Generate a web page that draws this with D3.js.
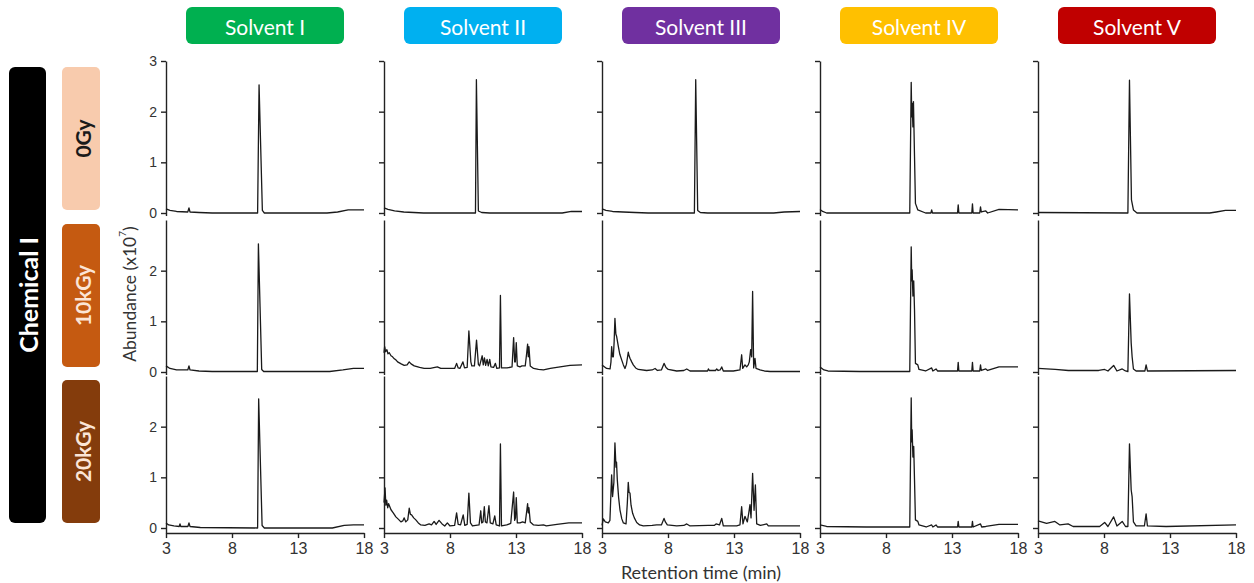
<!DOCTYPE html>
<html lang="en">
<head>
<meta charset="UTF-8">
<title>GC chromatograms</title>
<style>
  body { margin: 0; background: #fff; }
  svg { display: block; font-family: Lato, "Open Sans", sans-serif; }
</style>
</head>
<body>
<svg width="1254" height="583"></svg>
<script src="https://d3js.org/d3.v7.min.js"></script>
<script>
// ---- data ----
const solvents = ["Solvent I", "Solvent II", "Solvent III", "Solvent IV", "Solvent V"]
const doses = ["0Gy", "10kGy", "20kGy"]
const chemical = "Chemical I"
const xTicks = [3, 8, 13, 18]
const yTicksTop = [0, 1, 2, 3]
const yTicks = [0, 1, 2]

// [retention time (min), abundance (x10^7)]
const s1_0 = [[3,0.08],[3.3,0.05],[3.8,0.03],[4.65,0.02],[4.74,0.1],[4.82,0.02],[5.5,0.01],[6.5,0],[9.94,0],[10.05,2.53],[10.3,0.05],[10.45,0],[15.2,0],[16,0.02],[16.8,0.06],[18,0.06]]
const s1_10 = [[3,0.12],[3.3,0.07],[3.8,0.04],[4.65,0.04],[4.74,0.12],[4.82,0.04],[5.5,0.02],[6.5,0.01],[9.92,0.01],[10,2.53],[10.25,0.05],[10.4,0.01],[15.4,0.01],[16.4,0.04],[17.2,0.07],[18,0.07]]
const s1_20 = [[3,0.1],[3.2,0.06],[3.6,0.04],[4,0.03],[4.06,0.08],[4.12,0.03],[4.66,0.03],[4.74,0.1],[4.82,0.03],[5.6,0.01],[9.94,0],[10.02,2.55],[10.28,0.05],[10.45,0],[15.6,0],[16.5,0.05],[17.2,0.06],[18,0.06]]

const s2_0 = [[3,0.1],[3.3,0.07],[3.8,0.04],[4.5,0.02],[6,0],[9.93,0],[10,2.63],[10.15,0.04],[10.4,0.01],[11,0],[16.5,0],[17.2,0.03],[18,0.03]]
const s2_10 = [[3,0.38],[3.05,0.5],[3.12,0.4],[3.22,0.44],[3.3,0.36],[3.4,0.38],[3.53,0.32],[3.65,0.3],[3.78,0.26],[3.9,0.24],[4.03,0.2],[4.3,0.16],[4.53,0.13],[4.75,0.14],[4.91,0.2],[5.05,0.16],[5.29,0.12],[5.7,0.09],[6.04,0.07],[6.5,0.07],[7.04,0.1],[7.3,0.07],[7.8,0.07],[8.35,0.07],[8.5,0.17],[8.62,0.08],[8.75,0.07],[8.98,0.2],[9.1,0.08],[9.3,0.09],[9.43,0.81],[9.58,0.2],[9.65,0.12],[9.85,0.12],[10.01,0.63],[10.15,0.15],[10.24,0.12],[10.44,0.32],[10.52,0.14],[10.61,0.28],[10.7,0.13],[10.81,0.25],[10.9,0.12],[11.01,0.25],[11.1,0.1],[11.3,0.09],[11.44,0.17],[11.55,0.07],[11.75,0.08],[11.82,1.51],[11.9,0.08],[12.32,0.08],[12.7,0.1],[12.82,0.68],[12.9,0.2],[12.95,0.2],[13.02,0.58],[13.1,0.12],[13.3,0.1],[13.45,0.12],[13.7,0.12],[13.8,0.35],[13.88,0.55],[13.93,0.3],[13.98,0.5],[14.08,0.12],[14.33,0.07],[14.7,0.05],[15.08,0.04],[15.6,0.07],[16.09,0.09],[17.09,0.13],[18,0.14]]
const s2_20 = [[3,0.5],[3.08,0.79],[3.14,0.45],[3.2,0.55],[3.28,0.4],[3.35,0.48],[3.53,0.36],[3.7,0.3],[3.9,0.22],[4.1,0.17],[4.28,0.12],[4.42,0.14],[4.53,0.2],[4.65,0.12],[4.8,0.16],[4.91,0.39],[5,0.27],[5.09,0.26],[5.25,0.2],[5.41,0.16],[5.6,0.1],[5.79,0.06],[6.1,0.05],[6.42,0.08],[6.6,0.06],[6.8,0.13],[6.95,0.07],[7.17,0.15],[7.4,0.08],[7.6,0.04],[7.8,0.1],[8,0.04],[8.35,0.05],[8.5,0.3],[8.62,0.07],[8.8,0.06],[9,0.26],[9.12,0.05],[9.3,0.07],[9.43,0.69],[9.55,0.1],[9.7,0.04],[10.2,0.06],[10.33,0.34],[10.4,0.1],[10.5,0.12],[10.6,0.42],[10.68,0.12],[10.8,0.1],[10.95,0.44],[11.05,0.1],[11.25,0.08],[11.39,0.24],[11.5,0.06],[11.75,0.04],[11.82,1.66],[11.9,0.04],[12.3,0.06],[12.6,0.09],[12.82,0.71],[12.9,0.15],[12.96,0.2],[13.02,0.6],[13.1,0.1],[13.3,0.1],[13.5,0.12],[13.7,0.1],[13.82,0.35],[13.88,0.48],[13.93,0.3],[13.98,0.4],[14.08,0.12],[14.33,0.06],[14.7,0.05],[15.08,0.06],[15.3,0.04],[16.1,0.07],[17,0.1],[18,0.1]]

const s3_0 = [[3,0.08],[3.3,0.05],[3.8,0.03],[4.6,0.02],[5.5,0.01],[6.5,0],[10,0],[10.1,2.63],[10.25,0.05],[10.45,0.01],[11,0],[16,0],[16.8,0.02],[18,0.03]]
const s3_10 = [[3,0.14],[3.2,0.1],[3.35,0.07],[3.61,0.06],[3.68,0.2],[3.73,0.5],[3.8,0.3],[3.86,0.3],[3.92,0.6],[3.98,1.06],[4.05,0.75],[4.11,0.7],[4.24,0.5],[4.35,0.35],[4.49,0.24],[4.62,0.14],[4.74,0.07],[4.85,0.15],[4.99,0.39],[5.05,0.32],[5.12,0.27],[5.25,0.2],[5.37,0.14],[5.55,0.08],[5.75,0.05],[6.38,0.03],[6.8,0.04],[7.02,0.07],[7.2,0.03],[7.5,0.04],[7.7,0.17],[7.85,0.09],[8.02,0.05],[8.66,0.02],[9.2,0.03],[9.42,0.06],[9.67,0.02],[11,0.02],[11.06,0.06],[11.13,0.03],[11.6,0.03],[11.69,0.06],[11.8,0.03],[11.95,0.04],[12.07,0.1],[12.19,0.02],[12.95,0.02],[13.45,0.04],[13.58,0.34],[13.66,0.07],[13.83,0.14],[13.96,0.1],[14.08,0.14],[14.16,0.2],[14.26,0.44],[14.34,0.3],[14.41,1.59],[14.49,0.08],[14.59,0.27],[14.67,0.07],[14.97,0.04],[15.3,0.02],[15.73,0.01],[18,0.01]]
const s3_20 = [[3,0.05],[3.1,0.18],[3.25,0.12],[3.48,0.1],[3.6,0.15],[3.68,0.7],[3.73,1.05],[3.8,0.62],[3.9,0.9],[3.98,1.68],[4.06,1.2],[4.1,1.3],[4.16,0.95],[4.26,0.6],[4.36,0.36],[4.5,0.18],[4.62,0.1],[4.82,0.08],[4.92,0.5],[4.99,0.9],[5.05,0.7],[5.12,0.69],[5.2,0.45],[5.32,0.29],[5.45,0.2],[5.63,0.11],[5.85,0.06],[6.13,0.04],[6.8,0.05],[7.14,0.06],[7.5,0.06],[7.7,0.19],[7.8,0.12],[7.95,0.06],[8.66,0.04],[9.2,0.05],[9.42,0.08],[9.67,0.04],[11.06,0.05],[11.5,0.05],[11.64,0.08],[11.9,0.06],[12.07,0.19],[12.19,0.04],[13.2,0.04],[13.45,0.06],[13.58,0.42],[13.68,0.08],[13.83,0.23],[14.01,0.12],[14.12,0.3],[14.21,0.46],[14.29,0.2],[14.41,1.08],[14.52,0.35],[14.62,0.85],[14.72,0.08],[15,0.05],[15.48,0.08],[15.6,0.04],[18,0.04]]

const s4_0 = [[3,0.07],[3.2,0.03],[3.5,0],[5.3,0],[6.5,0],[9.8,0],[9.91,2.58],[9.95,1.9],[9.98,2.17],[10.04,1.7],[10.08,2.2],[10.16,1.12],[10.23,0.19],[10.41,0.06],[11,0],[11.4,0],[11.46,0.06],[11.52,0],[13.42,0],[13.47,0.16],[13.52,0],[14.5,0],[14.55,0.18],[14.6,0],[15.1,0],[15.16,0.12],[15.22,0.02],[15.56,0.04],[15.7,0],[16.56,0.07],[18,0.06]]
const s4_10 = [[3,0.1],[3.3,0.04],[3.6,0.02],[6,0.01],[9.8,0.01],[9.91,2.47],[9.95,1.8],[9.98,2.02],[10.04,1.5],[10.1,1.8],[10.16,1.23],[10.23,0.17],[10.41,0.14],[10.5,0.05],[11,0.02],[11.46,0.08],[11.55,0.02],[11.79,0.06],[11.9,0.02],[13.42,0.02],[13.47,0.19],[13.52,0.02],[14.5,0.02],[14.55,0.19],[14.6,0.02],[15.1,0.02],[15.16,0.14],[15.22,0.03],[15.56,0.06],[15.7,0.03],[16.56,0.1],[18,0.1]]
const s4_20 = [[3,0.06],[3.5,0.03],[6.5,0.02],[9.8,0.02],[9.91,2.57],[9.95,1.7],[9.98,1.94],[10.04,1.4],[10.1,1.61],[10.16,0.95],[10.23,0.16],[10.41,0.13],[10.5,0.06],[11.04,0.02],[11.46,0.06],[11.55,0.02],[11.79,0.06],[11.9,0.02],[13.42,0.02],[13.47,0.13],[13.52,0.02],[14.5,0.02],[14.55,0.13],[14.6,0.02],[15.16,0.08],[15.25,0.02],[15.56,0.03],[16.56,0.07],[18,0.07]]

const s5_0 = [[3,0.01],[9.81,0],[9.93,2.62],[10.08,0.26],[10.23,0.06],[10.5,0],[16,0],[16.5,0.02],[17.2,0.05],[18,0.05]]
const s5_10 = [[3,0.07],[3.65,0.06],[4.3,0.05],[5.3,0.03],[7.6,0.03],[8.05,0.05],[8.3,0.02],[8.73,0.13],[8.98,0.02],[9.38,0.06],[9.63,0.02],[9.81,0.01],[9.93,1.54],[10.06,0.57],[10.13,0.3],[10.23,0.06],[10.43,0.02],[11.1,0.02],[11.19,0.14],[11.29,0.02],[18,0.03]]
const s5_20 = [[3,0.14],[3.65,0.09],[4.28,0.13],[4.66,0.06],[5.28,0.08],[5.66,0.03],[7.67,0.03],[8.05,0.11],[8.3,0.03],[8.73,0.22],[8.98,0.04],[9.38,0.13],[9.63,0.03],[9.81,0.03],[9.93,1.66],[10.06,0.75],[10.13,0.62],[10.23,0.12],[10.43,0.04],[11.06,0.04],[11.19,0.28],[11.29,0.04],[12.7,0.03],[18,0.06]]

// traces[solvent][dose]
const traces = [
    [s1_0, s1_10, s1_20],
    [s2_0, s2_10, s2_20],
    [s3_0, s3_10, s3_20],
    [s4_0, s4_10, s4_20],
    [s5_0, s5_10, s5_20],
]

// ---- styling / layout ----
const solventColors = ["#00b050", "#00b0f0", "#7030a0", "#ffc000", "#c00000"]
const doseColors = ["#f8cbad", "#c55a11", "#843c0c"]
const doseText = ["#1a1a1a", "#fbe5d6", "#fbe5d6"]

const colLeft = [166, 384, 602, 820, 1038]
const panelW = 198
const rows = [
    { top: 61, zero: 213, low: -0.05 },
    { top: 220, zero: 372, low: -0.05 },
    { top: 376, zero: 528, low: -0.1 },
]

const svg = d3.select('svg')

// solvent headers
solvents.forEach((s, i) => {
    const g = svg.append('g').attr('transform', `translate(${colLeft[i] + 20},7)`)
    g.append('rect')
        .attr('width', 158).attr('height', 37).attr('rx', 6)
        .attr('fill', solventColors[i])
    g.append('text')
        .attr('x', 79).attr('y', 19)
        .attr('text-anchor', 'middle').attr('dominant-baseline', 'central')
        .attr('fill', '#fff').style('font-size', '21px')
        .text(s)
})

// chemical bar
svg.append('rect')
    .attr('x', 9).attr('y', 67).attr('width', 37).attr('height', 456).attr('rx', 6)
    .attr('fill', '#000')
svg.append('text')
    .attr('transform', 'translate(28,295) rotate(-90)')
    .attr('text-anchor', 'middle').attr('dominant-baseline', 'central')
    .attr('fill', '#fff').style('font-size', '25px').style('font-weight', 700)
    .text(chemical)

// dose boxes
const doseBoxes = [[67, 210], [224, 367], [380, 523]]
doses.forEach((d, i) => {
    const [y1, y2] = doseBoxes[i]
    svg.append('rect')
        .attr('x', 62).attr('y', y1).attr('width', 38).attr('height', y2 - y1).attr('rx', 5)
        .attr('fill', doseColors[i])
    svg.append('text')
        .attr('transform', `translate(82,${(y1 + y2) / 2}) rotate(-90)`)
        .attr('text-anchor', 'middle').attr('dominant-baseline', 'central')
        .attr('fill', doseText[i]).style('font-size', '21px').style('font-weight', 700)
        .text(d)
})

const line = d3.line()

traces.forEach((col, ci) => {
    const x = d3.scaleLinear().domain([3, 18]).range([colLeft[ci], colLeft[ci] + panelW])
    col.forEach((data, ri) => {
        const r = rows[ri]
        const y = d3.scaleLinear().domain([0, 3]).range([r.zero, r.top])
        const yAxisScale = d3.scaleLinear().domain([r.low, 3]).range([y(r.low), r.top])

        const yAxis = d3.axisLeft(yAxisScale)
            .tickValues(ri === 0 ? yTicksTop : yTicks)
            .tickSize(5).tickSizeOuter(0).tickPadding(4)
            .tickFormat(ci === 0 ? d3.format('d') : () => '')
        const ga = svg.append('g')
            .attr('transform', `translate(${colLeft[ci]},0)`)
            .call(yAxis)
        ga.selectAll('text').style('font-size', '14px').attr('fill', '#333')
        ga.selectAll('path, line').attr('stroke', '#222').attr('stroke-width', 1.4)

        if (ri === 2) {
            const xAxis = d3.axisBottom(x).tickValues(xTicks)
                .tickSize(5).tickSizeOuter(0).tickPadding(5)
            const gx = svg.append('g')
                .attr('transform', `translate(0,${y(r.low)})`)
                .call(xAxis)
            gx.selectAll('text').style('font-size', '16px').attr('fill', '#333')
            gx.selectAll('path, line').attr('stroke', '#222').attr('stroke-width', 1.4)
        }

        svg.append('path')
            .datum(data)
            .attr('d', line.x(d => x(d[0])).y(d => y(d[1])))
            .attr('fill', 'none')
            .attr('stroke', '#1a1a1a')
            .attr('stroke-width', 1.3)
            .attr('stroke-linejoin', 'round')
    })
})

// axis titles
const yt = svg.append('text')
    .attr('transform', 'translate(129,294) rotate(-90)')
    .attr('text-anchor', 'middle').attr('dominant-baseline', 'central')
    .attr('fill', '#333').style('font-size', '17.5px')
yt.append('tspan').text('Abundance (x10')
yt.append('tspan').text('7').attr('dy', -7).style('font-size', '10px')
yt.append('tspan').text(')').attr('dy', 7)

svg.append('text')
    .attr('x', 701).attr('y', 572)
    .attr('text-anchor', 'middle').attr('dominant-baseline', 'central')
    .attr('fill', '#333').style('font-size', '18px')
    .text('Retention time (min)')
</script>
</body>
</html>
